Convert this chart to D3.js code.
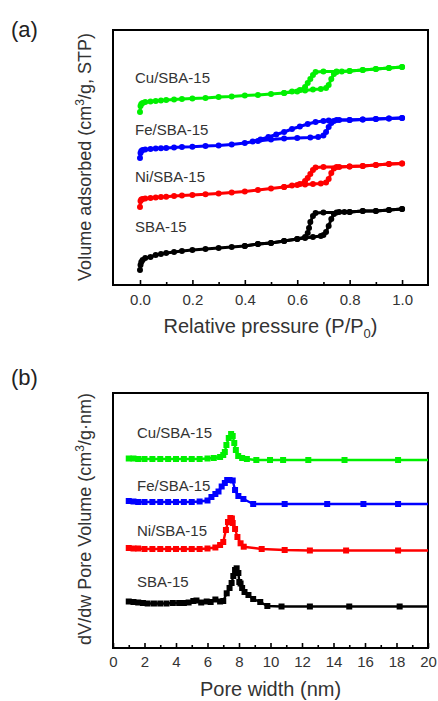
<!DOCTYPE html>
<html>
<head>
<meta charset="utf-8">
<script src="https://cdn.jsdelivr.net/npm/d3@7"></script>
<style>
  html, body { margin: 0; padding: 0; background: #fff; }
  svg text { font-family: "Liberation Sans", Arial, sans-serif; }
</style>
</head>
<body>
<svg id="chart" width="438" height="701"></svg>
<script>
// ---------- Panel (a): N2 adsorption-desorption isotherms (offset, arbitrary units) ----------
const pressureTicks = [0, 0.2, 0.4, 0.6, 0.8, 1.0];
const pressureMinorTicks = [0.1, 0.3, 0.5, 0.7, 0.9];
const isoLabels = ["Cu/SBA-15", "Fe/SBA-15", "Ni/SBA-15", "SBA-15"];
const seriesColors = ["#00f000", "#0000ff", "#ff0000", "#000000"];

const cuAds = [[0,173],[0.002,179],[0.005,181],[0.01,182],[0.02,183],[0.04,183.5],[0.06,184],[0.08,184.5],[0.1,185],[0.13,185.5],[0.16,186],[0.2,186.5],[0.25,187],[0.3,188],[0.35,188.5],[0.4,189.5],[0.45,190],[0.5,191],[0.55,192],[0.6,193.5],[0.63,194.5],[0.66,195.5],[0.69,196],[0.71,197],[0.72,200],[0.73,206],[0.74,211],[0.75,213],[0.77,213.5],[0.8,214],[0.85,215],[0.9,216],[0.95,217],[1.0,218]];
const cuDes = [[1.0,218],[0.95,217],[0.9,216],[0.85,215],[0.8,214],[0.75,213.5],[0.7,213.5],[0.67,213],[0.66,210],[0.65,206],[0.64,202],[0.63,198],[0.61,195],[0.58,193.5],[0.55,192]];
const feAds = [[0,127],[0.002,132],[0.005,134],[0.01,135],[0.02,135.5],[0.04,136],[0.06,136.5],[0.08,136.7],[0.1,137],[0.13,137.5],[0.16,138],[0.2,138.3],[0.25,139],[0.3,139.5],[0.35,140.5],[0.4,142],[0.45,144],[0.5,145.5],[0.55,146.5],[0.6,147],[0.65,147.5],[0.68,148],[0.7,149.5],[0.71,153],[0.72,158],[0.73,162],[0.74,164],[0.76,165],[0.8,165],[0.85,165.5],[0.9,166],[0.95,166.5],[1.0,167]];
const feDes = [[1.0,167],[0.95,166.5],[0.9,166],[0.85,165.5],[0.8,165],[0.75,165],[0.72,164.5],[0.7,164],[0.67,163],[0.64,161],[0.61,158.5],[0.58,156],[0.55,153],[0.52,150.5],[0.49,148],[0.46,145.5],[0.43,143.5]];
const niAds = [[0,78],[0.002,84],[0.005,85.5],[0.01,86],[0.02,86.5],[0.04,87],[0.06,87.5],[0.08,88],[0.1,88.3],[0.13,89],[0.16,89.5],[0.2,90],[0.25,90.7],[0.3,91.5],[0.35,92.5],[0.4,93.5],[0.45,95],[0.5,96.5],[0.55,98],[0.6,100],[0.63,100.5],[0.66,101],[0.69,101.5],[0.71,102.5],[0.72,106],[0.73,112],[0.74,116.5],[0.76,118],[0.8,118.5],[0.85,119],[0.9,120],[0.95,121],[1.0,121.5]];
const niDes = [[1.0,121.5],[0.95,121],[0.9,120],[0.85,119],[0.8,118.5],[0.75,118],[0.7,118],[0.67,117.5],[0.66,115],[0.65,111],[0.64,107],[0.63,104],[0.61,101],[0.58,99.5],[0.55,98]];
const sbaAds = [[0,15],[0.002,20],[0.005,23],[0.01,25],[0.02,27],[0.04,28],[0.06,30],[0.08,31],[0.1,32],[0.13,33],[0.16,34],[0.2,35],[0.25,36],[0.3,37],[0.35,38],[0.4,39],[0.45,41],[0.5,42],[0.55,44],[0.6,46],[0.63,47],[0.66,48],[0.69,49],[0.7,50],[0.71,53],[0.72,59],[0.73,66],[0.74,71],[0.76,73],[0.78,73],[0.8,73],[0.85,74],[0.9,74],[0.95,75],[1.0,76]];
const sbaDes = [[1.0,76],[0.95,75],[0.9,74],[0.85,74],[0.8,73],[0.75,72.5],[0.7,72.5],[0.67,72],[0.66,69],[0.65,63],[0.645,57],[0.64,52],[0.63,48],[0.6,46],[0.55,44],[0.5,42],[0.45,41],[0.4,39]];

// ---------- Panel (b): pore size distributions (offset, arbitrary units) ----------
const widthTicks = [0, 2, 4, 6, 8, 10, 12, 14, 16, 18, 20];
const widthMinorTicks = [1, 3, 5, 7, 9, 11, 13, 15, 17, 19];
const cuPsd = [[1.0,189.5],[1.3,189.5],[1.6,189],[2.0,189],[2.5,189],[3.0,189],[3.5,189],[4.0,189],[4.5,189],[5.0,189],[5.5,189],[6.0,189.5],[6.4,190],[6.8,191],[7.0,193],[7.1,196],[7.2,203],[7.35,210],[7.5,214],[7.6,212],[7.7,205],[7.8,198],[7.95,192],[8.2,190],[8.5,189],[9.1,188],[9.97,188],[10.8,188],[12.4,188],[14.7,188],[18.1,188],[20,188]];
const fePsd = [[1.0,147],[1.3,146.5],[1.6,146],[2.0,146],[2.5,146],[3.0,146],[3.5,146],[4.0,146],[4.5,146],[5.0,146],[5.5,146.5],[6.0,147.5],[6.25,151],[6.5,154],[6.7,156.5],[6.9,161.5],[7.1,165],[7.25,168],[7.4,168],[7.6,167.5],[7.75,158],[7.96,152],[8.28,149],[8.9,144],[10.9,144],[13.6,144],[15.9,144],[18.1,144],[20,144]];
const niPsd = [[1.0,100],[1.3,99.5],[1.6,99.5],[2.0,99],[2.5,99],[3.0,99],[3.5,99],[4.0,99],[4.5,99],[5.0,99],[5.5,99],[6.0,99.5],[6.5,100.5],[6.8,103],[7.0,106],[7.17,118],[7.3,126],[7.45,130],[7.55,129.5],[7.6,125],[7.75,119],[7.9,111],[8.1,104.7],[8.3,101.3],[9.44,99],[10.9,98],[12.5,97.5],[14.8,97.5],[18.1,97.5],[20,97.5]];
const sbaPsd = [[1.0,46.5],[1.3,46],[1.6,45.5],[1.9,45],[2.2,44.5],[2.6,44.5],[3.0,44.5],[3.4,44.5],[3.8,45],[4.2,45],[4.5,45],[4.8,45.5],[5.1,47],[5.3,47.5],[5.6,45.5],[5.95,46.5],[6.2,46],[6.5,48.5],[6.8,46.5],[7.0,47],[7.22,54.7],[7.4,60],[7.53,65],[7.64,72],[7.75,78],[7.85,79.7],[7.96,75],[8.02,66],[8.1,64.5],[8.2,60],[8.35,56],[8.6,53],[8.9,49],[9.35,46],[9.8,42],[10.7,41.5],[12.5,41.5],[15.0,41.5],[18.2,41.5],[20,41.5]];

// ---------- Drawing ----------
const svg = d3.select("#chart");
const FONT = '"Liberation Sans", Arial, sans-serif';

function panel(opts) {
  const { left, right, top, bottom, xDomain, yDomain, majors, minors, fmt, pad } = opts;
  const x = d3.scaleLinear().domain(xDomain).range([left, right]);
  const y = d3.scaleLinear().domain(yDomain).range([bottom, top]);
  const g = svg.append("g");

  const major = g.append("g").attr("transform", `translate(0,${bottom})`)
    .call(d3.axisBottom(x).tickValues(majors).tickFormat(fmt).tickSizeInner(-5).tickSizeOuter(0).tickPadding(pad));
  const minor = g.append("g").attr("transform", `translate(0,${bottom})`)
    .call(d3.axisBottom(x).tickValues(minors).tickFormat("").tickSizeInner(-3).tickSizeOuter(0));
  [major, minor].forEach(a => {
    a.select(".domain").remove();
    a.selectAll("line").attr("stroke", "#000").attr("stroke-width", 1.6);
  });
  major.selectAll("text").attr("font-size", 15).attr("font-family", FONT).attr("fill", "#333");

  g.append("rect").attr("x", left).attr("y", top)
    .attr("width", right - left).attr("height", bottom - top)
    .attr("fill", "none").attr("stroke", "#000").attr("stroke-width", 2);
  return { x, y, g };
}

// Panel (a)
const A = panel({ left: 113, right: 428, top: 30, bottom: 285, xDomain: [-0.103, 1.099], yDomain: [0, 255],
  majors: pressureTicks, minors: pressureMinorTicks, fmt: d3.format(".1f"), pad: 9.5 });
const isoSeries = [[cuAds, cuDes], [feAds, feDes], [niAds, niDes], [sbaAds, sbaDes]];
const lineA = d3.line().x(d => A.x(d[0])).y(d => A.y(d[1]));
isoSeries.forEach((branches, i) => {
  branches.forEach(br => {
    A.g.append("path").datum(br).attr("d", lineA).attr("fill", "none")
      .attr("stroke", seriesColors[i]).attr("stroke-width", 3).attr("stroke-linejoin", "round");
    A.g.append("g").selectAll("circle").data(br).join("circle")
      .attr("cx", d => A.x(d[0])).attr("cy", d => A.y(d[1])).attr("r", 3)
      .attr("fill", seriesColors[i]);
  });
});
const labelYA = [83, 135, 181.5, 231.5];
isoLabels.forEach((t, i) => {
  svg.append("text").attr("x", 135).attr("y", labelYA[i]).attr("font-size", 15)
    .attr("fill", "#333").text(t);
});

// Panel (b)
const B = panel({ left: 113, right: 428, top: 393, bottom: 648, xDomain: [0, 20], yDomain: [0, 255],
  majors: widthTicks, minors: widthMinorTicks, fmt: d3.format("d"), pad: 8.5 });
const psdSeries = [cuPsd, fePsd, niPsd, sbaPsd];
const lineB = d3.line().x(d => B.x(d[0])).y(d => B.y(d[1]));
psdSeries.forEach((s, i) => {
  B.g.append("path").datum(s).attr("d", lineB).attr("fill", "none")
    .attr("stroke", seriesColors[i]).attr("stroke-width", 2.4).attr("stroke-linejoin", "round");
  B.g.append("g").selectAll("rect").data(s.filter(d => d[0] < 20)).join("rect")
    .attr("x", d => B.x(d[0]) - 3).attr("y", d => B.y(d[1]) - 3)
    .attr("width", 6).attr("height", 6).attr("fill", seriesColors[i]);
});
const labelYB = [437.5, 491, 535.5, 586.5];
isoLabels.forEach((t, i) => {
  svg.append("text").attr("x", 137).attr("y", labelYB[i]).attr("font-size", 15)
    .attr("fill", "#333").text(t);
});

// Panel letters
svg.append("text").attr("x", 11).attr("y", 37).attr("font-size", 22).attr("fill", "#222").text("(a)");
svg.append("text").attr("x", 11).attr("y", 385).attr("font-size", 22).attr("fill", "#222").text("(b)");

// Axis titles
const tA = svg.append("text").attr("x", 270.5).attr("y", 333).attr("text-anchor", "middle")
  .attr("font-size", 20).attr("fill", "#333");
tA.append("tspan").text("Relative pressure (P/P");
tA.append("tspan").attr("font-size", 13).attr("dy", 5).text("0");
tA.append("tspan").attr("dy", -5).text(")");

svg.append("text").attr("x", 270.5).attr("y", 696).attr("text-anchor", "middle")
  .attr("font-size", 20).attr("fill", "#333").text("Pore width (nm)");

const yA = svg.append("text").attr("transform", "translate(91,157) rotate(-90)")
  .attr("text-anchor", "middle").attr("font-size", 18).attr("fill", "#333");
yA.append("tspan").text("Volume adsorbed (cm");
yA.append("tspan").attr("font-size", 12).attr("dy", -7).text("3");
yA.append("tspan").attr("dy", 7).text("/g, STP)");

const yB = svg.append("text").attr("transform", "translate(91,519) rotate(-90)")
  .attr("text-anchor", "middle").attr("font-size", 18).attr("fill", "#333");
yB.append("tspan").text("dV/dw Pore Volume (cm");
yB.append("tspan").attr("font-size", 12).attr("dy", -7).text("3");
yB.append("tspan").attr("dy", 7).text("/g\u00b7nm)");
</script>
</body>
</html>
